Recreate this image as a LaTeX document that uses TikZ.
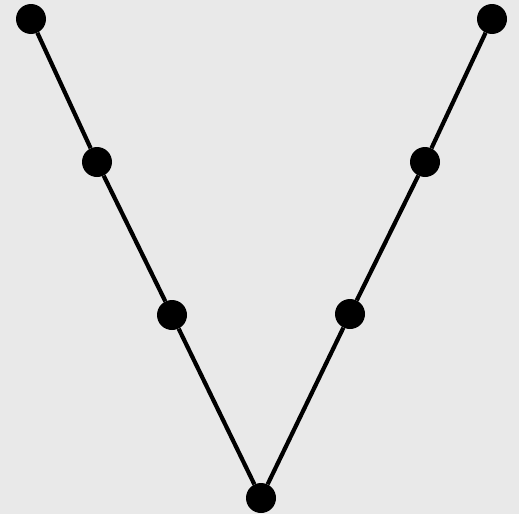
\documentclass[tikz,border=0pt]{standalone}
\begin{document}
\begin{tikzpicture}[x=1pt,y=-1pt,
  dot/.style={circle,fill=black,minimum size=30pt,inner sep=0pt},
  edge/.style={line width=4.2pt,black}]
\fill[fill={rgb,255:red,233;green,233;blue,233}] (0,0) rectangle (519,514);
\useasboundingbox (0,0) rectangle (519,514);
\node[dot] (a) at (31,19) {};
\node[dot] (b) at (97,162) {};
\node[dot] (c) at (172,315) {};
\node[dot] (d) at (261,498) {};
\node[dot] (e) at (350,314) {};
\node[dot] (f) at (425,162) {};
\node[dot] (g) at (492,19) {};
\draw[edge] (a) -- (b) -- (c) -- (d) -- (e) -- (f) -- (g);
\end{tikzpicture}
\end{document}
